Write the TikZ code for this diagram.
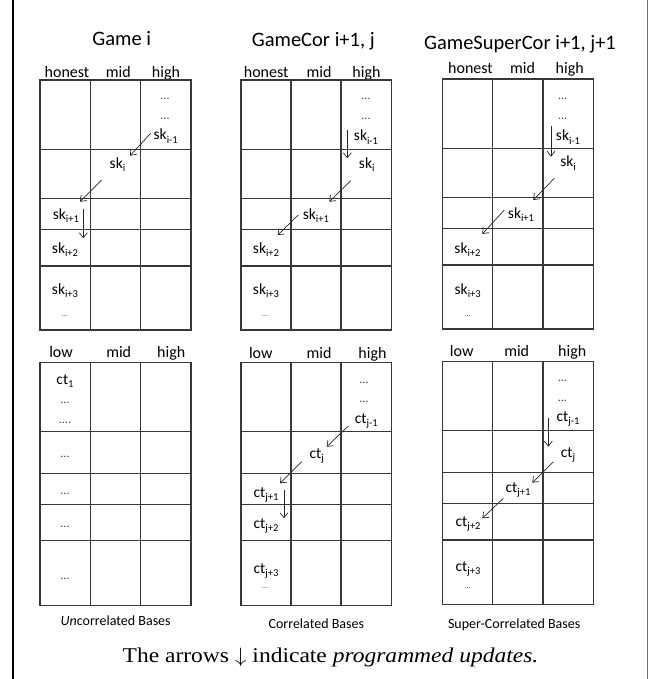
\documentclass[tikz,border=0pt]{standalone}
\usepackage{fontspec}
\setmainfont{Carlito}
\newfontfamily\capfont{Liberation Serif}
\usetikzlibrary{arrows.meta}
\newcommand\sbx[1]{\raisebox{-3.2pt}{\fontsize{10.5}{10.5}\selectfont #1}}
\newcommand\tablegrid[6]{%
  \foreach \xx in {#1}{\draw[gridline] (\xx,#5) -- (\xx,#6);}
  \foreach \yy in {#2}{\draw[gridline] (#3,\yy) -- (#4,\yy);}
}
\tikzset{
  gridline/.style={draw=black!78, line width=1.15pt, line cap=rect},
  upd/.style={-{Straight Barb[length=5pt,width=8pt,line width=0.7pt]}, line width=0.7pt, draw=black!85},
  ttl/.style={font=\fontsize{20.5}{20.5}\selectfont, anchor=base, inner sep=0},
  hdr/.style={font=\fontsize{16}{16}\selectfont, anchor=base, inner sep=0},
  cell/.style={font=\fontsize{15.5}{15.5}\selectfont, anchor=base, inner sep=0},
  dts/.style={font=\fontsize{12}{12}\selectfont, anchor=base, inner sep=0, text=black!75},
  tny/.style={font=\fontsize{8}{8}\selectfont, anchor=base, inner sep=0, text=black!70},
  captxt/.style={font=\fontsize{14}{14}\selectfont, anchor=base, inner sep=0},
  framel/.style={line width=1.5pt},
}
\begin{document}
\begin{tikzpicture}[x=1pt,y=-1pt]
\useasboundingbox (0,0) rectangle (650,679);
% frame
\draw[framel, draw=black] (13,0) -- (13,679);
\draw[framel, draw=black!55] (647.5,0) -- (647.5,679);

% titles
\node[ttl] (t1) at (121.7,45.7) {Game i};
\node[ttl] (t2) at (313.3,46.7) {GameCor i+1, j};
\node[ttl] (t3) at (520,50) {GameSuperCor i+1, j+1};

% headers top
\node[hdr] (h1a) at (67,77.3) {honest};
\node[hdr] (h1b) at (118.3,77.3) {mid};
\node[hdr] (h1c) at (166,77.3) {high};
\node[hdr] (h2a) at (266.2,77.3) {honest};
\node[hdr] (h2b) at (319,77.3) {mid};
\node[hdr] (h2c) at (366.5,77.3) {high};
\node[hdr] (h3a) at (470.5,74) {honest};
\node[hdr] (h3b) at (522.5,74) {mid};
\node[hdr] (h3c) at (569.7,74) {high};
% headers bottom
\node[hdr] (l1a) at (61,357.3) {low};
\node[hdr] (l1b) at (118.7,357.3) {mid};
\node[hdr] (l1c) at (171.2,357.3) {high};
\node[hdr] (l2a) at (260.8,358.3) {low};
\node[hdr] (l2b) at (319,358.3) {mid};
\node[hdr] (l2c) at (372.5,358.3) {high};
\node[hdr] (l3a) at (461.7,356.7) {low};
\node[hdr] (l3b) at (516.7,356.7) {mid};
\node[hdr] (l3c) at (572.2,356.7) {high};

% grids
\tablegrid{40,90.7,140.7,191}{80,149.3,198.3,229.3,266,330}{40}{191}{80}{330}
\tablegrid{241,291,341,391.7}{80,149.3,198.3,229.3,266,330}{241}{391.7}{80}{330}
\tablegrid{442.3,492.7,543,593.7}{79,148.3,197.3,228.3,265,329}{442.3}{593.7}{79}{329}
\tablegrid{40,90.7,140.7,191}{362.7,431.7,473.3,504.3,540.7,605.7}{40}{191}{362.7}{605.7}
\tablegrid{241,291,341,391.7}{362.7,431.7,473.3,504.3,540.7,605.7}{241}{391.7}{362.7}{605.7}
\tablegrid{442.3,492.7,543,593.7}{361.7,430.7,472.3,503.3,540,604.3}{442.3}{593.7}{361.7}{604.3}

% ---- top left: Game i
\node[dts] (a0) at (165,100) {...};
\node[dts] (a00) at (165,120) {...};
\node[cell] (a1) at (165.7,140) {sk\sbx{i-1}};
\node[cell] (a2) at (117.5,168) {sk\sbx{i}};
\node[cell] (a3) at (65.8,219.5) {sk\sbx{i+1}};
\node[cell] (a4) at (65,253) {sk\sbx{i+2}};
\node[cell] (a5) at (65,294) {sk\sbx{i+3}};
\node[tny] (a6) at (64.3,316) {...};
\coordinate (a1s) at (150.7,133.3); \coordinate (a1e) at (130,155.7);
\coordinate (a2s) at (101.7,180);   \coordinate (a2e) at (80,201.7);
\coordinate (a3s) at (83.3,209.3);  \coordinate (a3e) at (83.3,238.3);
\draw[upd] (a1s) -- (a1e);
\draw[upd] (a2s) -- (a2e);
\draw[upd] (a3s) -- (a3e);

% ---- top middle: GameCor
\node[dts] (b0) at (366,100) {...};
\node[dts] (b00) at (366,120) {...};
\node[cell] (b1) at (366,141) {sk\sbx{i-1}};
\node[cell] (b2) at (366.7,168) {sk\sbx{i}};
\node[cell] (b3) at (315.8,219) {sk\sbx{i+1}};
\node[cell] (b4) at (266,253) {sk\sbx{i+2}};
\node[cell] (b5) at (266,294) {sk\sbx{i+3}};
\node[tny] (b6) at (265,316) {...};
\coordinate (b1s) at (347.3,130);   \coordinate (b1e) at (347.3,158.3);
\coordinate (b2s) at (350.7,180.7); \coordinate (b2e) at (329.3,201.7);
\coordinate (b3s) at (298.3,215);   \coordinate (b3e) at (277.7,235);
\draw[upd] (b1s) -- (b1e);
\draw[upd] (b2s) -- (b2e);
\draw[upd] (b3s) -- (b3e);

% ---- top right: GameSuperCor
\node[dts] (c0) at (562.7,100) {...};
\node[dts] (c00) at (562.7,120) {...};
\node[cell] (c1) at (568,141) {sk\sbx{i-1}};
\node[cell] (c2) at (568,167) {sk\sbx{i}};
\node[cell] (c3) at (521,218) {sk\sbx{i+1}};
\node[cell] (c4) at (467.5,253) {sk\sbx{i+2}};
\node[cell] (c5) at (467.7,294) {sk\sbx{i+3}};
\node[tny] (c6) at (467.7,316) {...};
\coordinate (c1s) at (551,126);     \coordinate (c1e) at (551,156.7);
\coordinate (c2s) at (554.3,178.3); \coordinate (c2e) at (533.3,200);
\coordinate (c3s) at (504.3,210);   \coordinate (c3e) at (482.3,234);
\draw[upd] (c1s) -- (c1e);
\draw[upd] (c2s) -- (c2e);
\draw[upd] (c3s) -- (c3e);

% ---- bottom left
\node[cell] (d1) at (65,384.5) {ct\sbx{1}};
\node[dts] (d2) at (65,403) {...};
\node[dts] (d3) at (65,423) {....};
\node[dts] (d4) at (65,457.5) {...};
\node[dts] (d5) at (65,494) {...};
\node[dts] (d6) at (65,527.5) {...};
\node[dts] (d7) at (65,579) {...};

% ---- bottom middle
\node[dts] (e0) at (364,383) {...};
\node[dts] (e00) at (364,402.5) {...};
\node[cell] (e1) at (366.3,423) {ct\sbx{j-1}};
\node[cell] (e2) at (316.7,458) {ct\sbx{j}};
\node[cell] (e3) at (266,497) {ct\sbx{j+1}};
\node[cell] (e4) at (266,528) {ct\sbx{j+2}};
\node[cell] (e5) at (266,573) {ct\sbx{j+3}};
\node[tny] (e6) at (265,588) {...};
\coordinate (e1s) at (348.3,426);   \coordinate (e1e) at (326.7,446.7);
\coordinate (e2s) at (301.7,461.7); \coordinate (e2e) at (280,483.3);
\coordinate (e3s) at (284,490);     \coordinate (e3e) at (284,518.3);
\draw[upd] (e1s) -- (e1e);
\draw[upd] (e2s) -- (e2e);
\draw[upd] (e3s) -- (e3e);

% ---- bottom right
\node[dts] (f0) at (562.3,381.5) {...};
\node[dts] (f00) at (562.3,401.5) {...};
\node[cell] (f1) at (568,421) {ct\sbx{j-1}};
\node[cell] (f2) at (568,457) {ct\sbx{j}};
\node[cell] (f3) at (518,492) {ct\sbx{j+1}};
\node[cell] (f4) at (468,526) {ct\sbx{j+2}};
\node[cell] (f5) at (468,571) {ct\sbx{j+3}};
\node[tny] (f6) at (467.7,588) {...};
\coordinate (f1s) at (548.3,418.3); \coordinate (f1e) at (548.3,446.7);
\coordinate (f2s) at (553.3,461.7); \coordinate (f2e) at (532.3,482.7);
\coordinate (f3s) at (503.3,498.3); \coordinate (f3e) at (482.3,518.3);
\draw[upd] (f1s) -- (f1e);
\draw[upd] (f2s) -- (f2e);
\draw[upd] (f3s) -- (f3e);

% captions
\node[captxt] (k1) at (115.7,625) {\textit{Un}correlated Bases};
\node[captxt] (k2) at (316.3,628.3) {Correlated Bases};
\node[captxt] (k3) at (514.2,628.3) {Super-Correlated Bases};
\node[anchor=base, inner sep=0, font=\capfont\fontsize{21}{21}\selectfont] (k0) at (330.5,662.7)
  {\scalebox{1.12}[1]{The arrows $\downarrow$ indicate \textit{programmed updates.}}};
\end{tikzpicture}
\end{document}
